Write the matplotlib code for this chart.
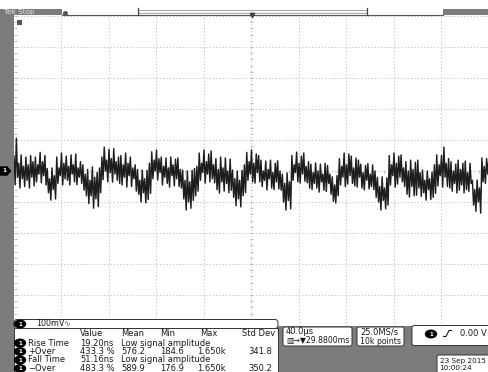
import numpy as np
import matplotlib
matplotlib.use("Agg")
import matplotlib.pyplot as plt
from matplotlib.patches import Rectangle, FancyBboxPatch, Ellipse, Polygon

# ---------------- data ----------------
# peak-detect display: max / min of the signal (mV) in each 2 us slot over 400 us
trace_max = [
    48, 106, 25, 52, 15, 45, 20, 50, 30,
    45, 20, 60, 30, 50,
    8, -25, 10, -15,
    45, 10, 58, 25, 48, 15, 52, 20, 55, 10, 30,
    20, -10,
    5, -30, 13, -20, -5, 10,
    45, 77, 35, 70, 40, 72, 30,
    45,
    50, 20, 58, 25, 45, 10,
    20,
    5, -30, 3, -25, 2,
    25,
    62, 35, 68, 40,
    45, 15, 42, 10, 45, 20, 38, 42, 5,
    3, -30, 0, -35, 2,
    8, 15,
    58, 25, 68, 30, 55, 65, 20,
    40, 5, 45, 10, 42, 0, 38,
    3, -25, 0, -30, 2,
    20,
    60, 30, 68, 25, 55, 50,
    35, 0, 32, 5, 35, -5, 25, 33, 0,
    -10, -40, -6, -35,
    50, 20, 61, 25, 48, 58, 15,
    30,
    22, -5, 26, 0, 22, -10, 25, 18, -10,
    -19, -45, -15,
    40, 15, 58, 20, 55, 48, 10, 42, 35,
    22, -5, 18, 24, -10, 20,
    0,
    -20, -50, -19, -55, -22,
    50, 20, 58, 25, 48, 52, 10,
    30, 0, 35, 5, 28, 35, -5,
    3, -30, 0, -25, -5,
    20,
    52, 20, 50, 77, 25,
    40,
    30, 0, 22, 35, 5, 25, 32, -5, 25,
    -30, -60, -29, -55,
    42, 15, 40, 45,
]
trace_min = [
    -45, -20, -55, -25, -50, -30, -55, -20, -48,
    -35, -10, -38, -15, -45,
    -70, -94, -60, -90,
    -40, -15, -45, -25, -30, -45, -10, -35, -44, -20, -40,
    -62, -80,
    -105, -80, -120, -90, -115, -70,
    -28, 0, -35, -5, -36, -10, -30,
    -40,
    -45, -20, -52, -15, -50, -25,
    -65,
    -75, -100, -70, -103, -92,
    -72,
    -25, 0, -29, -5,
    -45, -20, -40, -52, -15, -48, -25, -50, -55,
    -90, -126, -100, -120, -95,
    -80, -65,
    -30, -5, -39, -10, -35, -25, -38,
    -60, -71, -35, -65, -40, -70, -62,
    -85, -112, -90, -116, -80,
    -70,
    -30, -10, -35, -39, -5, -35,
    -50, -30, -61, -25, -55, -60, -35, -58, -62,
    -100, -126, -95, -122,
    -30, -5, -35, -39, -10, -33, -38,
    -55,
    -60, -40, -55, -68, -35, -62, -66, -40, -75,
    -98, -103, -80,
    -45, -20, -50, -42, -15, -40, -48, -52, -20,
    -55, -61, -30, -58, -50, -60,
    -85,
    -100, -126, -95, -122, -110,
    -45, -15, -52, -42, -20, -35, -50,
    -75, -84, -50, -80, -78, -55, -82,
    -70, -94, -60, -92, -85,
    -72,
    -48, -15, -52, -20, -50,
    -55,
    -65, -40, -71, -62, -45, -71, -60, -66, -40,
    -110, -130, -100, -136,
    -35, -40, -10, -30,
]
slot_us = 2.0
time_per_div_us = 40.0
volts_per_div_mv = 100.0

scale_label = "100mV"
meas_header = ["Value", "Mean", "Min", "Max", "Std Dev"]
meas_names = ["Rise Time", "+Over", "Fall Time", "\u2212Over"]
meas_value = ["19.20ns", "433.3 %", "51.16ns", "483.3 %"]
meas_mean = ["Low signal amplitude", "576.2", "Low signal amplitude", "589.9"]
meas_min = ["", "184.6", "", "176.9"]
meas_max = ["", "1.650k", "", "1.650k"]
meas_std = ["", "341.8", "", "350.2"]

horiz_text = ["40.0\u00b5s", "\u25a5\u2192\u25bc29.8800ms"]
acq_text = ["25.0MS/s", "10k points"]
trig_level = "0.00 V"
date_text = ["23 Sep 2015", "10:00:24"]

# ---------------- figure ----------------
W, H = 489, 372
fig = plt.figure(figsize=(W / 100, H / 100), dpi=100)
fig.patch.set_facecolor("white")

GRAY = "#7c7c7c"
GRID = "#bdbdbd"
INK = "#1a1a1a"
FONT = "DejaVu Sans"

# graticule axes: x 14..489 px, y 16..326 px
gx0, gx1, gy0, gy1 = 14, 489, 16, 326
ax = fig.add_axes([gx0 / W, (H - gy1) / H, (gx1 - gx0) / W, (gy1 - gy0) / H])
ax.set_xlim(0, 10 * time_per_div_us)
ax.set_ylim(-5 * volts_per_div_mv, 5 * volts_per_div_mv)
ax.axis("off")
ax.set_zorder(1)

for k in range(1, 10):
    ax.axvline(k * time_per_div_us, color=GRID, lw=0.7, ls=(0, (1.2, 2.2)), zorder=1)
    ax.axhline((k - 5) * volts_per_div_mv, color=GRID, lw=0.7, ls=(0, (1.2, 2.2)), zorder=1)
ax.axhline(500, color=GRID, lw=0.7, ls=(0, (1.2, 2.2)), zorder=1)

# minor ticks on center cross and left border
xm = np.arange(0, 400.01, time_per_div_us / 5)
ym = np.arange(-500, 500.01, volts_per_div_mv / 5)
dx = 400 / (gx1 - gx0) * 1.5
dy = 1000 / (gy1 - gy0) * 1.5
ax.vlines(xm, -dy, dy, color=GRID, lw=0.7, zorder=1)
ax.hlines(ym, 200 - dx, 200 + dx, color=GRID, lw=0.7, zorder=1)
ax.hlines(ym, 0, 2 * dx, color=GRID, lw=0.7, zorder=1)

# trace: each slot drawn from its max down to its min (zig-zag, like the scope)
t = np.arange(len(trace_max)) * slot_us
tz = np.empty(2 * len(t))
vz = np.empty(2 * len(t))
tz[0::2] = t
tz[1::2] = t + slot_us / 2
vz[0::2] = trace_max
vz[1::2] = trace_min
ax.plot(tz, vz, color="#1e1e1e", lw=1.05, zorder=3)

# ---------------- overlay (pixel coordinates) ----------------
ov = fig.add_axes([0, 0, 1, 1])
ov.set_xlim(0, W)
ov.set_ylim(H, 0)
ov.axis("off")
ov.patch.set_alpha(0)
ov.set_zorder(2)

# top strip
ov.add_patch(Rectangle((0, 8.5), 62, 6.5, fc=GRAY, ec="none"))
ov.text(4, 11.8, "Tek Stop", fontsize=5.2, color="#e6e6e6", va="center", ha="left", family=FONT)
ov.plot([62, 443], [14.6, 14.6], color="#555555", lw=0.8)
ov.add_patch(Rectangle((138, 9.5), 229, 3.6, fc="#f7f7f7", ec="#9a9a9a", lw=0.6))
ov.plot([138, 138], [8, 15], color="#444444", lw=0.9)
ov.plot([367, 367], [8, 15], color="#444444", lw=0.9)
ov.plot([64.5], [12.5], marker="o", ms=2.6, color="#555555")
ov.plot([252], [14.8], marker="v", ms=3.2, color="#444444")
ov.add_patch(Rectangle((443, 8.5), 46, 6.5, fc=GRAY, ec="none"))

# left bar
ov.add_patch(Rectangle((0, 8.5), 13.5, H - 8.5, fc=GRAY, ec="none"))
ov.add_patch(Rectangle((17, 19.5), 5, 5, fc="#555555", ec="none"))

# channel marker at trace offset
y0 = gy0 + (gy1 - gy0) / 2
ov.add_patch(Polygon([(0, y0 - 4), (7, y0 - 4), (10.5, y0), (7, y0 + 4), (0, y0 + 4)],
                     closed=True, fc="black", ec="black"))
ov.text(4.2, y0, "1", fontsize=4.2, color="white", ha="center", va="center",
        fontweight="bold", family=FONT)


def ch_icon(x, y):
    ov.add_patch(Ellipse((x, y), 11, 7.5, fc="black", ec="black"))
    ov.text(x, y + 0.2, "1", fontsize=4, color="white", ha="center", va="center",
            fontweight="bold", family=FONT)


# bottom gray band
ov.add_patch(Rectangle((278, 326), W - 278, H - 326, fc=GRAY, ec="none"))

# channel scale box + measurement table
ov.add_patch(Rectangle((14, 328), 264, 45, fc="white", ec="#333333", lw=0.7))
ov.add_patch(FancyBboxPatch((14, 319.5), 264, 9, boxstyle="round,pad=0,rounding_size=3",
                            fc="white", ec="#333333", lw=0.7))
ch_icon(20, 324)
ov.text(36, 324, scale_label, fontsize=5.8, color=INK, va="center", family=FONT)
ov.text(63, 324, "\u223f", fontsize=5.8, color="#555555", va="center", family=FONT)

TS = 6.0
cols = [80, 121, 160, 200, 242]
for cx, h in zip(cols, meas_header):
    ov.text(cx, 334, h, fontsize=TS, color=INK, va="center", family=FONT)
rows_y = [343, 351.5, 360, 368.5]
for ry, name, v, mn, lo, hi, sd in zip(rows_y, meas_names, meas_value, meas_mean,
                                       meas_min, meas_max, meas_std):
    ch_icon(20, ry)
    ov.text(28, ry, name, fontsize=TS, color=INK, va="center", family=FONT)
    ov.text(80, ry, v, fontsize=TS, color=INK, va="center", family=FONT)
    ov.text(121, ry, mn, fontsize=TS, color=INK, va="center", family=FONT)
    ov.text(160, ry, lo, fontsize=TS, color=INK, va="center", family=FONT)
    ov.text(197, ry, hi, fontsize=TS, color=INK, va="center", family=FONT)
    ov.text(248, ry, sd, fontsize=TS, color=INK, va="center", family=FONT)


def info_box(x, y, w, h):
    ov.add_patch(FancyBboxPatch((x, y), w, h, boxstyle="round,pad=0,rounding_size=2",
                                fc="white", ec="#333333", lw=0.7))


info_box(283, 327, 69, 19)
ov.text(286, 332, horiz_text[0], fontsize=TS, color=INK, va="center", family=FONT)
ov.text(286, 341, horiz_text[1], fontsize=5.6, color=INK, va="center", family=FONT)

info_box(357, 327, 47, 19)
ov.text(360, 332, acq_text[0], fontsize=TS, color=INK, va="center", family=FONT)
ov.text(360, 341, acq_text[1], fontsize=5.6, color=INK, va="center", family=FONT)

info_box(412, 325.5, 80, 20)
ch_icon(431, 334)
ov.plot([443.5, 446, 449, 451.5], [336.5, 336.5, 330.5, 330.5], color=INK, lw=0.8)
ov.text(487, 334, trig_level, fontsize=TS, color=INK, va="center", ha="right", family=FONT)

info_box(437, 355, 55, 20)
ov.text(439.5, 360.5, date_text[0], fontsize=5.2, color=INK, va="center", family=FONT)
ov.text(439.5, 368.3, date_text[1], fontsize=5.2, color=INK, va="center", family=FONT)

fig.savefig("out.png", dpi=100, facecolor="white")
